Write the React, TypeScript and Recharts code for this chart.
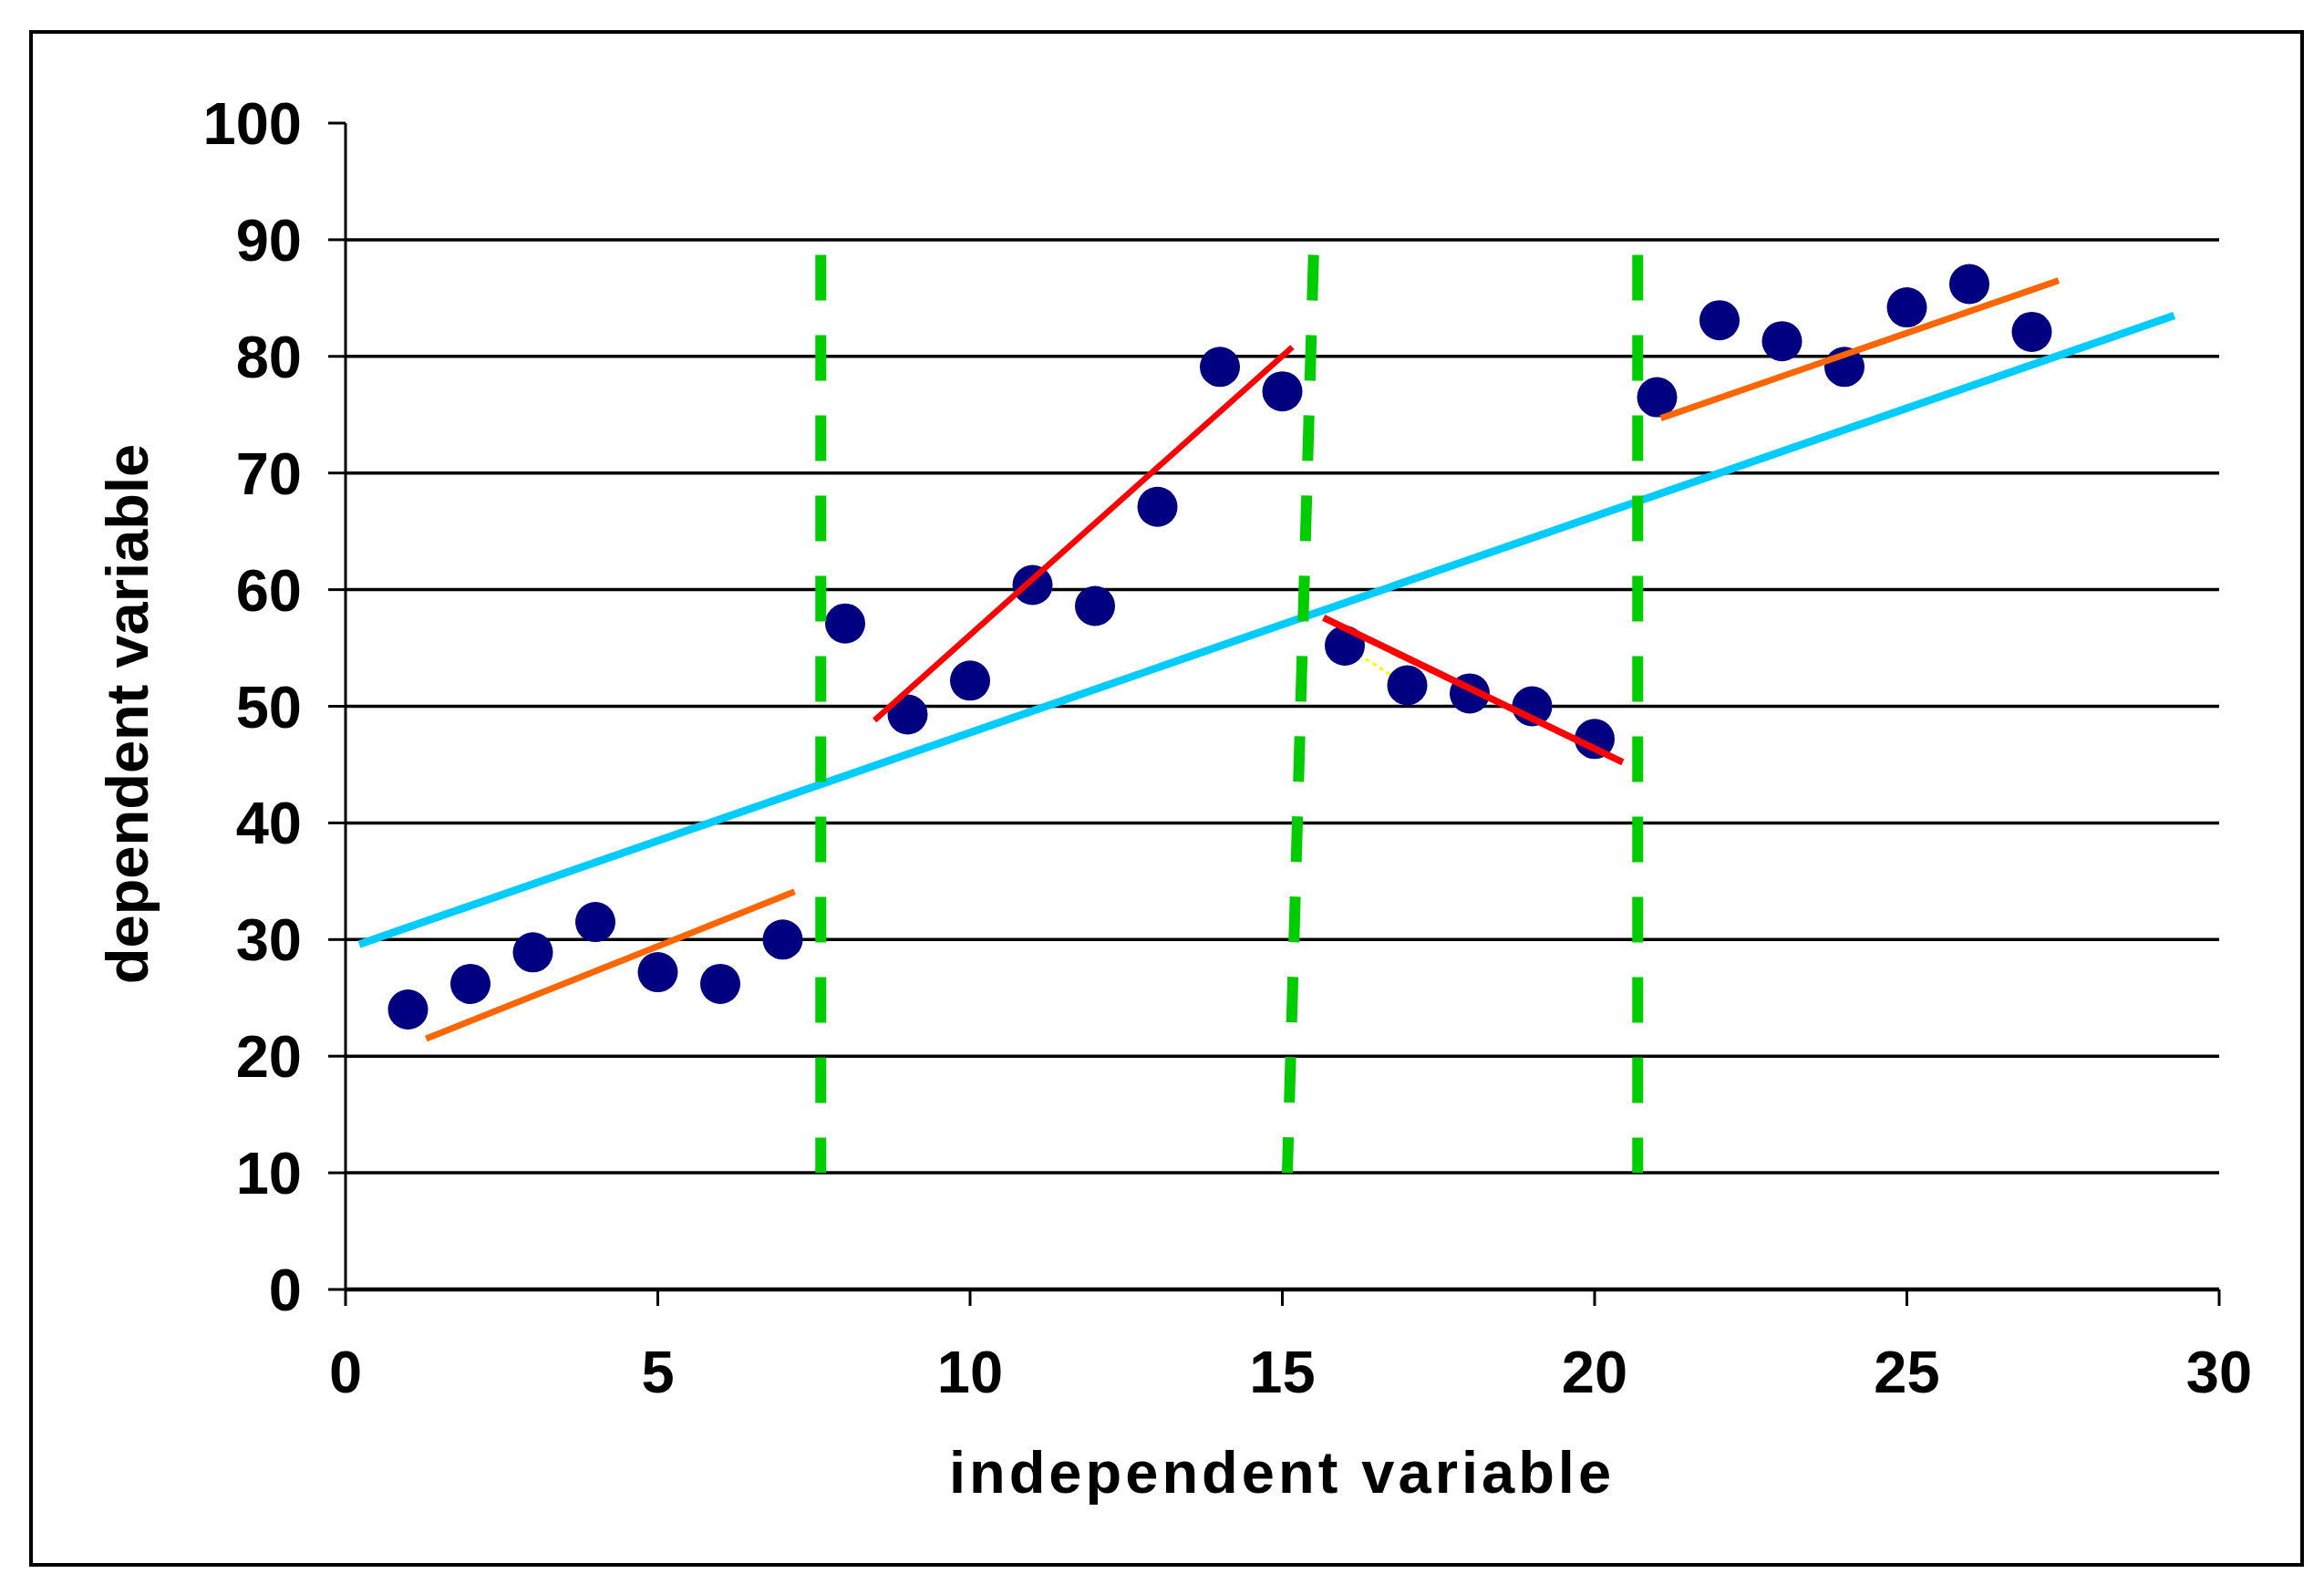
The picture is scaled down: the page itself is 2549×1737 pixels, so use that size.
import React from 'react';
import { ScatterChart, Scatter, XAxis, YAxis, CartesianGrid } from 'recharts';

const FONT = '"Liberation Sans", Arial, sans-serif';

// observations
const pointX = [1, 2, 3, 4, 5, 6, 7, 8, 9, 10, 11, 12, 13, 14, 15, 16, 17, 18, 19, 20, 21, 22, 23, 24, 25, 26, 27];
const pointY = [
  24.0, 26.2, 28.9, 31.5, 27.2, 26.2, 30.0, 57.1, 49.3, 52.2, 60.4, 58.6, 67.1, 79.1,
  77.0, 55.2, 51.8, 51.1, 50.0, 47.2, 76.5, 83.1, 81.3, 79.1, 84.2, 86.2, 82.1,
];

// fitted lines (end points)
const overallTrend = [{ x: 0.22, y: 29.6 }, { x: 29.28, y: 83.5 }];
const orangeTrendA = [{ x: 1.29, y: 21.5 }, { x: 7.19, y: 34.1 }];
const orangeTrendB = [{ x: 21.06, y: 74.7 }, { x: 27.43, y: 86.5 }];
const redTrendA = [{ x: 8.47, y: 48.8 }, { x: 15.16, y: 80.8 }];
const redTrendB = [{ x: 15.66, y: 57.6 }, { x: 20.45, y: 45.2 }];
const yellowLink = [{ x: 16, y: 55.2 }, { x: 17, y: 51.8 }];

// breakpoints (green dashed), top first
const breakA = [{ x: 7.61, y: 88.7 }, { x: 7.61, y: 10 }];
const breakB = [{ x: 15.5, y: 88.7 }, { x: 15.08, y: 10 }];
const breakC = [{ x: 20.69, y: 88.7 }, { x: 20.69, y: 10 }];

const xTicks = [0, 5, 10, 15, 20, 25, 30];
const yTicks = [0, 10, 20, 30, 40, 50, 60, 70, 80, 90, 100];
const gridValues = [10, 20, 30, 40, 50, 60, 70, 80, 90];

const points = pointX.map((x, i) => ({ x, y: pointY[i] }));

const tickStyle = { fill: '#000', fontSize: 65, fontWeight: 700, fontFamily: FONT };

const noShape = () => <g />;

const Dot = (props: any) => <circle cx={props.cx} cy={props.cy} r={22} fill="#000080" />;

const XLabel = () => (
  <text x={1406} y={1637} textAnchor="middle" fontSize={65} fontWeight={700} fontFamily={FONT} fill="#000" letterSpacing={4}>
    independent variable
  </text>
);

const YLabel = () => (
  <text
    x={162}
    y={783}
    transform="rotate(-90 162 783)"
    textAnchor="middle"
    fontSize={65}
    fontWeight={700}
    fontFamily={FONT}
    fill="#000"
  >
    dependent variable
  </text>
);

const segment = (data: any[], stroke: string, width: number, dash?: string) => (
  <Scatter
    data={data}
    shape={noShape}
    isAnimationActive={false}
    line={{ stroke, strokeWidth: width, strokeDasharray: dash, strokeLinecap: 'butt' }}
  />
);

export default function App() {
  return (
    <div style={{ position: 'absolute', left: 0, top: 0, width: 2549, height: 1737, background: '#fff' }}>
      <div
        style={{
          position: 'absolute',
          left: 32,
          top: 33,
          width: 2495,
          height: 1685,
          border: '4px solid #000',
          boxSizing: 'border-box',
        }}
      />
      <div style={{ position: 'absolute', left: 0, top: 0 }}>
        <ScatterChart width={2549} height={1737} margin={{ top: 135, right: 115, bottom: 0, left: 0 }}>
          <CartesianGrid horizontal vertical={false} horizontalValues={gridValues} stroke="#000" strokeWidth={3.5} />
          <XAxis
            type="number"
            dataKey="x"
            domain={[0, 30]}
            ticks={xTicks}
            interval={0}
            height={323}
            tick={tickStyle}
            tickSize={18}
            tickMargin={49}
            tickLine={{ stroke: '#000', strokeWidth: 3 }}
            axisLine={{ stroke: '#000', strokeWidth: 4.5 }}
            label={XLabel}
          />
          <YAxis
            type="number"
            dataKey="y"
            domain={[0, 100]}
            ticks={yTicks}
            interval={0}
            width={379}
            tick={tickStyle}
            tickSize={19}
            tickMargin={29}
            tickLine={{ stroke: '#000', strokeWidth: 3 }}
            axisLine={{ stroke: '#000', strokeWidth: 3 }}
            label={YLabel}
          />
          {segment(yellowLink, '#FFFF00', 3, '5 4')}
          <Scatter data={points} shape={Dot} isAnimationActive={false} />
          {segment(overallTrend, '#00CCFF', 8.5)}
          {segment(orangeTrendA, '#FF6600', 7)}
          {segment(orangeTrendB, '#FF6600', 7)}
          {segment(redTrendA, '#FF0000', 6.5)}
          {segment(redTrendB, '#FF0000', 7.5)}
          {segment(breakA, '#00CC00', 12, '50 38')}
          {segment(breakB, '#00CC00', 12, '50 38')}
          {segment(breakC, '#00CC00', 12, '50 38')}
        </ScatterChart>
      </div>
    </div>
  );
}
